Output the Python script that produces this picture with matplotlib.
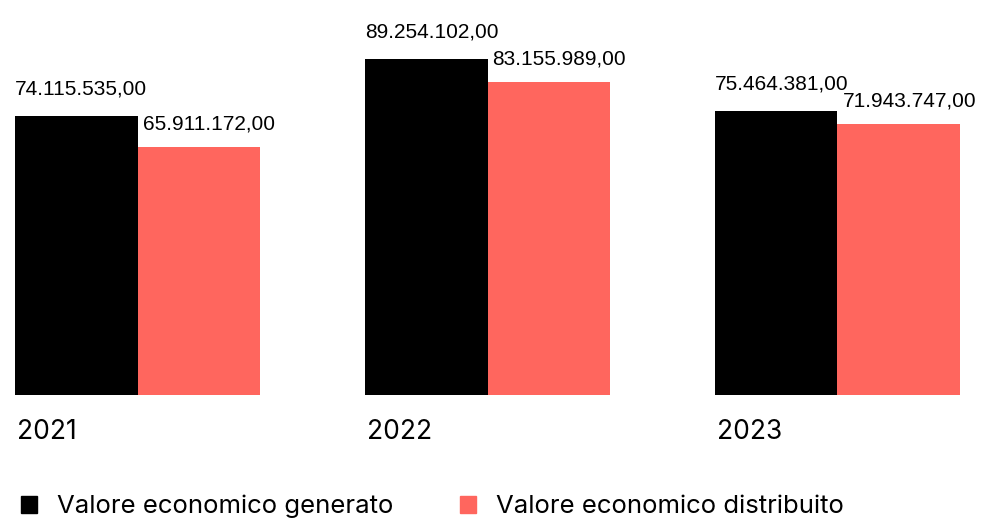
import matplotlib.pyplot as plt
import matplotlib.patches as mpatches
import numpy as np

years = ["2021", "2022", "2023"]
generato = [74115535.00, 89254102.00, 75464381.00]
distribuito = [65911172.00, 83155989.00, 71943747.00]
series_names = ["Valore economico generato", "Valore economico distribuito"]
colors = ["#000000", "#FF665E"]


def fmt_it(v):
    s = f"{v:,.2f}"
    return s.replace(",", "X").replace(".", ",").replace("X", ".")


fig = plt.figure(figsize=(9.82, 5.18), dpi=100)
ax = fig.add_axes([0, 0.2375, 1, 0.7625])

x = np.arange(len(years))
w = 0.35
b1 = ax.bar(x - w / 2, generato, w, color=colors[0])
b2 = ax.bar(x + w / 2, distribuito, w, color=colors[1])

ax.set_xlim(-0.393, 2.413)
ax.set_ylim(0, 104.8e6)
ax.axis("off")

for bars, dx, dy in [(b1, 0, 17), (b2, 5, 13)]:
    for r in bars:
        ax.annotate(fmt_it(r.get_height()), (r.get_x(), r.get_height()),
                    xytext=(dx, dy), textcoords="offset pixels",
                    ha="left", va="bottom", fontsize=15,
                    family="Liberation Sans")

for r, yr in zip(b1, years):
    ax.annotate(yr, (r.get_x(), 0), xytext=(2, -37), textcoords="offset pixels",
                ha="left", va="center", fontsize=19, family="Inter")

handles = [mpatches.Patch(color=c, label=n) for c, n in zip(colors, series_names)]
fig.legend(handles=handles, loc="center left", bbox_to_anchor=(0.0, 0.022),
           ncol=2, frameon=False, handlelength=0.65, handleheight=0.65,
           handletextpad=0.75, columnspacing=2.6, borderpad=0.3,
           prop={"family": "Inter", "size": 18.5})

fig.savefig("out.png", dpi=100)
